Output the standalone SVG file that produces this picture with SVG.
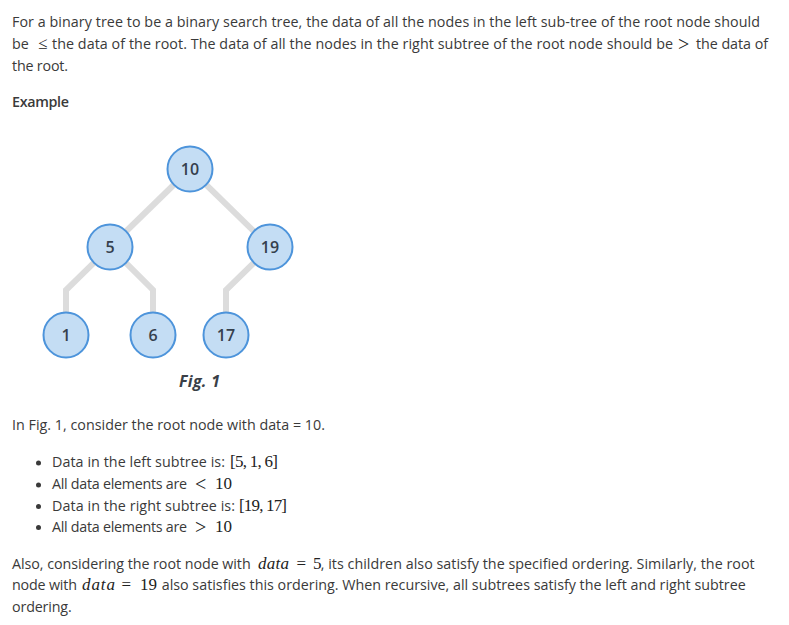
<svg xmlns="http://www.w3.org/2000/svg" width="789" height="625" viewBox="0 0 789 625">
<style>
.t{font-family:"Open Sans","Noto Sans","Liberation Sans",sans-serif;font-size:14.3px;fill:#3a3a3a}
.b{font-weight:600}
.m{font-family:"Liberation Serif","DejaVu Serif",serif;font-size:17px;fill:#222}
.r{font-family:"Liberation Serif","DejaVu Serif",serif;font-size:20px;fill:#222}
.mi{font-style:italic}
.edge{fill:none;stroke:#dcdcdc;stroke-width:6;stroke-linejoin:miter}
.node circle{fill:#c4ddf4;stroke:#4d94db;stroke-width:2}
.node text{font-family:"Open Sans","Noto Sans","Liberation Sans",sans-serif;font-size:16px;font-weight:600;fill:#35404d;text-anchor:middle}
.cap{font-family:"Open Sans","Noto Sans","Liberation Sans",sans-serif;font-size:16px;font-weight:700;font-style:italic;fill:#3a3f47}
.dot{fill:#3a3a3a}
</style>
<rect width="789" height="625" fill="#ffffff"/>
<g id="intro">
<text class="t" x="12" y="27" textLength="748">For a binary tree to be a binary search tree, the data of all the nodes in the left sub-tree of the root node should</text>
<text class="t" x="12" y="49">be</text>
<text class="m" x="38" y="49" font-size="15">≤</text>
<text class="t" x="52" y="49" textLength="621">the data of the root. The data of all the nodes in the right subtree of the root node should be</text>
<text class="r" x="678" y="50.5" font-size="17">&gt;</text>
<text class="t" x="696" y="49" textLength="72">the data of</text>
<text class="t" x="12" y="71" textLength="56">the root.</text>
<text class="t b" x="12" y="107" textLength="57">Example</text>
</g>
<g id="connectors">
<line class="edge" x1="190" y1="169" x2="110" y2="247"/>
<line class="edge" x1="190" y1="169" x2="270" y2="247"/>
<polyline class="edge" points="110,247 66,290 66,335"/>
<polyline class="edge" points="110,247 153,290 153,335"/>
<polyline class="edge" points="270,247 226,290 226,335"/>
</g>
<g id="node-10" class="node"><circle cx="190" cy="169" r="22.5"/><text x="190" y="174.5">10</text></g>
<g id="node-5" class="node"><circle cx="110" cy="247" r="22.5"/><text x="110" y="252.5">5</text></g>
<g id="node-19" class="node"><circle cx="270" cy="247" r="22.5"/><text x="270" y="252.5">19</text></g>
<g id="node-1" class="node"><circle cx="66" cy="335" r="22.5"/><text x="66" y="340.5">1</text></g>
<g id="node-6" class="node"><circle cx="153" cy="335" r="22.5"/><text x="153" y="340.5">6</text></g>
<g id="node-17" class="node"><circle cx="226" cy="335" r="22.5"/><text x="226" y="340.5">17</text></g>
<text class="cap" x="179" y="387" textLength="41">Fig. 1</text>
<g id="explanation">
<text class="t" x="12" y="430" textLength="313">In Fig. 1, consider the root node with data = 10.</text>
<circle class="dot" cx="38.5" cy="463" r="2.5"/>
<circle class="dot" cx="38.5" cy="485" r="2.5"/>
<circle class="dot" cx="38.5" cy="506.5" r="2.5"/>
<circle class="dot" cx="38.5" cy="527.5" r="2.5"/>
<text class="t" x="52" y="467" textLength="173">Data in the left subtree is:</text>
<text class="m" x="230" y="467" textLength="48">[5, 1, 6]</text>
<text class="t" x="52" y="489" textLength="135">All data elements are</text>
<text class="r" x="195" y="491">&lt;</text>
<text class="m" x="215" y="489" textLength="17">10</text>
<text class="t" x="52" y="511" textLength="183">Data in the right subtree is:</text>
<text class="m" x="239" y="511" textLength="48">[19, 17]</text>
<text class="t" x="52" y="532" textLength="135">All data elements are</text>
<text class="r" x="195" y="534">&gt;</text>
<text class="m" x="215" y="532" textLength="17">10</text>
</g>
<g id="closing">
<text class="t" x="12" y="568.5" textLength="238.7">Also, considering the root node with</text>
<text class="m mi" x="258" y="568.5" textLength="31">data</text>
<text class="m" x="296.5" y="568.5">=</text>
<text class="m" x="313" y="568.5">5</text>
<text class="t" x="320.7" y="568.5" textLength="434">, its children also satisfy the specified ordering. Similarly, the root</text>
<text class="t" x="12" y="590" textLength="65">node with</text>
<text class="m mi" x="82" y="590" textLength="33">data</text>
<text class="m" x="121.5" y="590">=</text>
<text class="m" x="140" y="590" textLength="17">19</text>
<text class="t" x="161.7" y="590" textLength="584">also satisfies this ordering. When recursive, all subtrees satisfy the left and right subtree</text>
<text class="t" x="12" y="612" textLength="59.7">ordering.</text>
</g>
</svg>
